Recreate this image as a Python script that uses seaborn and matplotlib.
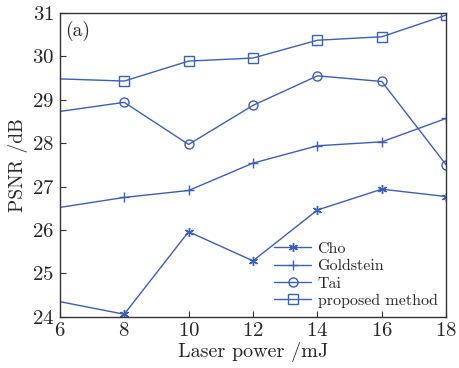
import pandas as pd
import matplotlib
matplotlib.use('Agg')
import matplotlib.pyplot as plt
import seaborn as sns

power = [6, 8, 10, 12, 14, 16, 18]
methods = ['Cho', 'Goldstein', 'Tai', 'proposed method']
cho = [24.35, 24.06, 25.96, 25.29, 26.46, 26.94, 26.77]
goldstein = [26.52, 26.75, 26.91, 27.54, 27.94, 28.03, 28.57]
tai = [28.73, 28.94, 27.97, 28.87, 29.55, 29.42, 27.50]
proposed = [29.48, 29.43, 29.89, 29.96, 30.37, 30.45, 30.95]

df = pd.DataFrame({
    'power': power * 4,
    'psnr': cho + goldstein + tai + proposed,
    'method': [m for m in methods for _ in power],
})

sns.set_style('white')
plt.rcParams['font.family'] = ['cmr10', 'DejaVu Serif']
plt.rcParams['axes.formatter.use_mathtext'] = True

blue = '#3c5fb8'
fig = plt.figure(figsize=(4.6, 3.68), dpi=100)
ax = fig.add_axes([0.130, 0.139, 0.840, 0.826])

sns.lineplot(data=df, x='power', y='psnr', hue='method', palette=[blue] * 4,
             ax=ax, linewidth=1.0)

marker_list = [(6, 2, 0), '+', 'o', 's']


def style_marker(line, mk):
    line.set_marker(mk)
    line.set_markersize(6.5)
    line.set_markerfacecolor('none')
    line.set_markeredgecolor(blue)
    line.set_markeredgewidth(1.0)


# the first point in each series has no marker in the original
for line, mk in zip(ax.lines[:4], marker_list):
    style_marker(line, mk)
    line.set_markevery(slice(1, None))

ax.set_xlim(6, 18)
ax.set_ylim(24, 31)
ax.set_xticks(range(6, 19, 2))
ax.set_yticks(range(24, 32))
ax.tick_params(direction='in', length=4, labelsize=15, pad=4, color='#333333',
               bottom=True, left=True)
for sp in ax.spines.values():
    sp.set_color('#333333')
    sp.set_linewidth(1.0)

ax.set_xlabel('Laser power /mJ', fontsize=14.5, labelpad=1)
ax.set_ylabel('PSNR /dB', fontsize=14, labelpad=3)
ax.text(0.015, 0.975, '(a)', transform=ax.transAxes, fontsize=14, va='top', ha='left')

ax.legend_.remove()
handles = ax.lines[:4]
leg = ax.legend(handles, methods, loc='lower right', frameon=False, fontsize=11.5,
                handlelength=2.3, labelspacing=0.2, borderaxespad=0.15,
                handletextpad=0.4, numpoints=1)
for h, mk in zip(leg.legend_handles, marker_list):
    style_marker(h, mk)
    h.set_color(blue)

fig.savefig('out.png', dpi=100, facecolor='white')
